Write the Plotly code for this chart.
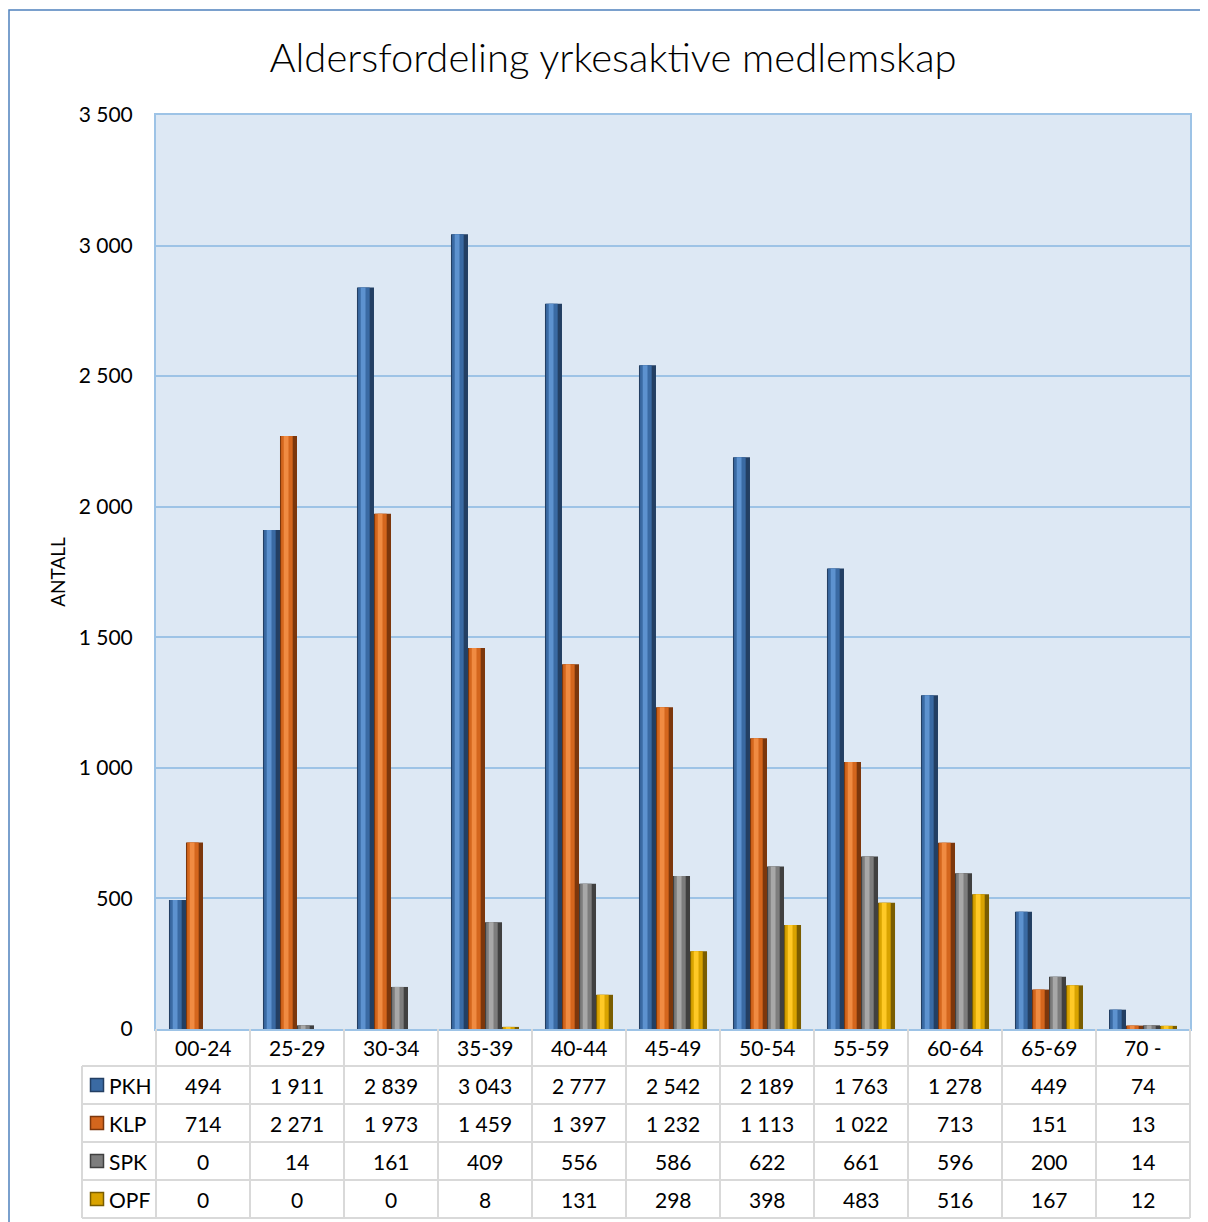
import plotly.graph_objects as go

categories = ["00-24", "25-29", "30-34", "35-39", "40-44", "45-49",
              "50-54", "55-59", "60-64", "65-69", "70 -"]
series_names = ["PKH", "KLP", "SPK", "OPF"]
pkh = [494, 1911, 2839, 3043, 2777, 2542, 2189, 1763, 1278, 449, 74]
klp = [714, 2271, 1973, 1459, 1397, 1232, 1113, 1022, 713, 151, 13]
spk = [0, 14, 161, 409, 556, 586, 622, 661, 596, 200, 14]
opf = [0, 0, 0, 8, 131, 298, 398, 483, 516, 167, 12]
series_values = [pkh, klp, spk, opf]

# (dark edge, body, highlight) per series - imitates the bevelled Excel bars
palettes = [
    ("#233f63", "#3a6aa3", "#5d92cf"),
    ("#7c370c", "#d4661d", "#f08b42"),
    ("#404040", "#7d7d7d", "#a8a8a8"),
    ("#7a5d00", "#d9a300", "#ffc926"),
]

FONT = "Lato"
n = len(categories)
bar_w = 0.181
group_start = -0.362


def fmt(v):
    return f"{v:,}".replace(",", " ")


fig = go.Figure()

for i, (name, vals) in enumerate(zip(series_names, series_values)):
    dark, body, light = palettes[i]
    off = group_start + i * bar_w
    # dark full-width bar
    fig.add_trace(go.Bar(x=categories, y=vals, name=name, offset=off, width=bar_w,
                         marker=dict(color=dark, line=dict(width=0)),
                         showlegend=False, hoverinfo="x+y+name"))
    # body
    fig.add_trace(go.Bar(x=categories, y=vals, offset=off + 0.012, width=bar_w * 0.68,
                         marker=dict(color=body, line=dict(width=0)),
                         showlegend=False, hoverinfo="skip"))
    # highlight strip
    fig.add_trace(go.Bar(x=categories, y=vals, offset=off + 0.04, width=bar_w * 0.28,
                         marker=dict(color=light, line=dict(width=0)),
                         showlegend=False, hoverinfo="skip"))

# ---- data table under the plot (paper coordinates) ----
plot_w = 1034.0
plot_h = 914.0
row_h = 38.0 / plot_h
head_h = 37.0 / plot_h
legend_col = -74.0 / plot_w
grid_col = "#d9d9d9"
shapes = []
annotations = []

row_edges = [0, -head_h] + [-head_h - row_h * (r + 1) for r in range(len(series_names))]

# horizontal lines
for yv in row_edges[1:]:
    shapes.append(dict(type="line", xref="paper", yref="paper", x0=legend_col, x1=1,
                       y0=yv, y1=yv, line=dict(color=grid_col, width=2)))
# vertical lines
for k in range(n + 1):
    xv = k / n
    shapes.append(dict(type="line", xref="paper", yref="paper", x0=xv, x1=xv,
                       y0=0, y1=row_edges[-1], line=dict(color=grid_col, width=2)))
shapes.append(dict(type="line", xref="paper", yref="paper", x0=legend_col, x1=legend_col,
                   y0=row_edges[1], y1=row_edges[-1], line=dict(color=grid_col, width=2)))

# header labels
for k, c in enumerate(categories):
    annotations.append(dict(text=c, xref="paper", yref="paper", x=(k + 0.5) / n,
                            y=-head_h / 2, showarrow=False, xanchor="center", yanchor="middle",
                            font=dict(family=FONT, size=21, color="#000000")))

# series rows
for i, (name, vals) in enumerate(zip(series_names, series_values)):
    yc = (row_edges[i + 1] + row_edges[i + 2]) / 2
    dark, body, light = palettes[i]
    kx = -59.0 / plot_w
    kw = 6.5 / plot_w
    kh = 6.5 / plot_h
    shapes.append(dict(type="rect", xref="paper", yref="paper", x0=kx - kw, x1=kx + kw,
                       y0=yc - kh, y1=yc + kh, fillcolor=body, line=dict(color=dark, width=1.5)))
    annotations.append(dict(text=name, xref="paper", yref="paper", x=-49.0 / plot_w, y=yc,
                            showarrow=False, xanchor="left", yanchor="middle",
                            font=dict(family=FONT, size=21, color="#000000")))
    for k, v in enumerate(vals):
        annotations.append(dict(text=fmt(v), xref="paper", yref="paper", x=(k + 0.5) / n,
                                y=yc, showarrow=False, xanchor="center", yanchor="middle",
                                font=dict(family=FONT, size=21, color="#000000")))

# outer chart-area border (Word frame)
shapes.append(dict(type="rect", xref="paper", yref="paper", layer="below",
                   x0=-147.0 / plot_w, x1=1.2, y0=-0.4, y1=1019.0 / plot_h,
                   line=dict(color="#4f81bd", width=1.5), fillcolor="rgba(0,0,0,0)"))

# page body has an 8px margin, so the figure is 8px smaller than the window
fig.update_layout(
    width=1200, height=1214,
    margin=dict(l=148, r=18, t=107, b=193),
    paper_bgcolor="white",
    plot_bgcolor="#dde8f4",
    barmode="overlay",
    separators=", ",
    title=dict(text="Aldersfordeling yrkesaktive medlemskap", x=605 / 1200, xref="container",
               xanchor="center", y=1 - 50 / 1214, yanchor="middle",
               font=dict(family=FONT, size=40, color="#000000", weight=300)),
    xaxis=dict(type="category", range=[-0.5, n - 0.5], showticklabels=False,
               showgrid=False, zeroline=False, showline=True, mirror=True,
               linecolor="#9dc3e6", linewidth=2, ticks=""),
    yaxis=dict(range=[0, 3500], dtick=500, tickformat=",d", showgrid=True,
               gridcolor="#9dc3e6", gridwidth=2, zeroline=False, showline=True,
               mirror=True, linecolor="#9dc3e6", linewidth=2, ticks="",
               ticklabelstandoff=17,
               tickfont=dict(family=FONT, size=21, color="#000000"),
               title=dict(text="ANTALL", standoff=8,
                          font=dict(family=FONT, size=19, color="#000000"))),
    shapes=shapes,
    annotations=annotations,
)

fig.write_html("out.html")
